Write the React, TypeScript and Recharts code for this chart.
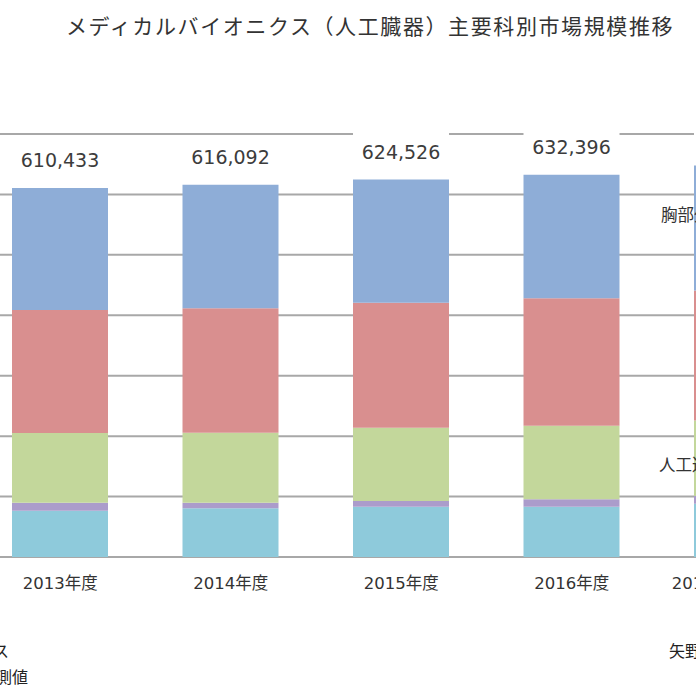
import React from "react";
import { BarChart, Bar, XAxis, YAxis, CartesianGrid, LabelList } from "recharts";

// Fiscal years on the category axis
const years = ["2013年度", "2014年度", "2015年度", "2016年度", "2017年度（見込）"];

// Market size by specialty (unit: 百万円), stacked bottom to top
const otherField = [76600, 80600, 83200, 83200, 88000];
const ophthalmology = [13200, 9300, 9400, 12200, 13000];
const dialysis = [115300, 115800, 121300, 121800, 125000];
const orthopedics = [203500, 205900, 206800, 210800, 215000];
const thoracic = [201833, 204492, 203826, 204396, 207000];

// Value axis gridline positions
const yTicks = [0, 100000, 200000, 300000, 400000, 500000, 600000, 700000];

const titleText = "メディカルバイオニクス（人工臓器）主要科別市場規模推移";
const noteLines = ["注：メーカー出荷金額ベース", "注：2017年度見込値、2018年度以降予測値"];
const sourceText = "矢野経済研究所調べ";
const seriesTags = ["胸部外科", "人工透析"];

const data = years.map((year, i) => ({
  year,
  other: otherField[i],
  ophthalmology: ophthalmology[i],
  dialysis: dialysis[i],
  orthopedics: orthopedics[i],
  thoracic: thoracic[i],
  total: otherField[i] + ophthalmology[i] + dialysis[i] + orthopedics[i] + thoracic[i],
}));

const LATIN = "'DejaVu Sans', 'Noto Sans CJK JP', sans-serif";
const CJK = "'Noto Sans CJK JP', sans-serif";

function YearTick(props: any) {
  const { x, y, payload } = props;
  return (
    <text x={x} y={y + 32} textAnchor="middle" fontSize={16.5} fill="#333" fontFamily={LATIN}>
      {payload.value}
    </text>
  );
}

function TotalLabel(props: any) {
  const { x, y, width, value } = props;
  const cx = Number(x) + Number(width) / 2;
  return (
    <g>
      <rect x={x} y={Number(y) - 48} width={width} height={46} fill="#ffffff" />
      <text x={cx} y={Number(y) - 21} textAnchor="middle" fontSize={19} fill="#3c3c3c" fontFamily={LATIN}>
        {Number(value).toLocaleString("en-US")}
      </text>
    </g>
  );
}

export default function App() {
  return (
    <div
      style={{
        position: "absolute",
        left: 0,
        top: 0,
        width: 696,
        height: 696,
        overflow: "hidden",
        background: "#ffffff",
      }}
    >
      <div style={{ position: "absolute", left: -25.25, top: 0 }}>
        <BarChart
          width={852.5}
          height={696}
          data={data}
          margin={{ top: 134, right: 0, bottom: 0, left: 0 }}
          barSize={96}
        >
          <CartesianGrid vertical={false} stroke="#a8a8a8" strokeWidth={2} />
          <XAxis
            dataKey="year"
            axisLine={false}
            tickLine={false}
            tickSize={0}
            tickMargin={0}
            height={139}
            interval={0}
            tick={<YearTick />}
          />
          <YAxis hide domain={[0, 700000]} ticks={yTicks} />
          <Bar dataKey="other" name="その他" stackId="s" fill="#8ecadb" isAnimationActive={false} />
          <Bar dataKey="ophthalmology" name="眼科" stackId="s" fill="#ab9ccb" isAnimationActive={false} />
          <Bar dataKey="dialysis" name="人工透析" stackId="s" fill="#c3d79b" isAnimationActive={false} />
          <Bar dataKey="orthopedics" name="整形外科" stackId="s" fill="#d98f8f" isAnimationActive={false} />
          <Bar dataKey="thoracic" name="胸部外科" stackId="s" fill="#8eadd7" isAnimationActive={false}>
            <LabelList dataKey="total" content={<TotalLabel />} />
          </Bar>
        </BarChart>
      </div>
      <svg
        width={696}
        height={696}
        style={{ position: "absolute", left: 0, top: 0, pointerEvents: "none" }}
      >
        <text x={66} y={34} fontSize={21} letterSpacing={1.6} fill="#333" fontFamily={CJK}>
          {titleText}
        </text>
        <text x={661} y={221} fontSize={16.5} fill="#333" fontFamily={CJK}>
          {seriesTags[0]}
        </text>
        <text x={659} y={471} fontSize={16.5} fill="#333" fontFamily={CJK}>
          {seriesTags[1]}
        </text>
        <text x={9} y={657} textAnchor="end" fontSize={16} fill="#222" fontFamily={CJK}>
          {noteLines[0]}
        </text>
        <text x={28} y={683} textAnchor="end" fontSize={16} fill="#222" fontFamily={CJK}>
          {noteLines[1]}
        </text>
        <text x={669} y={657} fontSize={16} fill="#222" fontFamily={CJK}>
          {sourceText}
        </text>
      </svg>
    </div>
  );
}
